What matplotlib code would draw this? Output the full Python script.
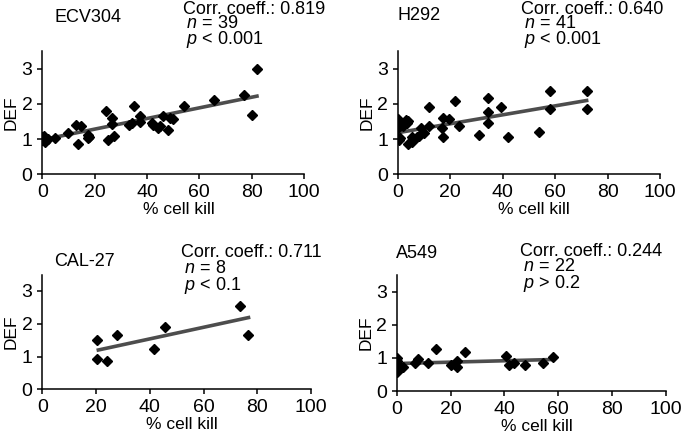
import matplotlib.pyplot as plt
import numpy as np

plt.rcParams['font.family'] = ['Liberation Sans', 'DejaVu Sans']
plt.rcParams['mathtext.fontset'] = 'custom'
plt.rcParams['mathtext.rm'] = 'Liberation Sans'
plt.rcParams['mathtext.it'] = 'Liberation Sans:italic'

W, H = 683, 440

# --- data ---
ecv_x = [0, 0, 0.5, 1, 2, 4.8, 9.7, 12.7, 13.5, 14.8, 17.6, 17.6, 17.8, 24.3, 25.2,
         26.5, 26.5, 27.5, 33.2, 34.1, 35.1, 37.3, 37.3, 41.8, 42.2, 44.1, 45, 46.2,
         48.1, 48.7, 49.8, 54, 65.5, 77, 80, 82]
ecv_y = [1.07, 0.98, 1.1, 0.91, 1.0, 1.02, 1.17, 1.4, 0.85, 1.36, 1.12, 1.02, 1.07,
         1.81, 0.98, 1.6, 1.44, 1.1, 1.4, 1.45, 1.95, 1.66, 1.49, 1.45, 1.4, 1.31,
         1.36, 1.66, 1.26, 1.6, 1.58, 1.93, 2.1, 2.24, 1.69, 2.99]

h292_x = [0, 0, 0, 0, 0.3, 0.6, 1, 1.5, 2.1, 3, 3.7, 4, 4, 5.3, 5.5, 6, 7.5, 8,
          8.9, 10, 11.9, 11.9, 16.8, 17.4, 17.4, 19.7, 21.8, 23.4, 31, 34.3, 34.3,
          34.3, 39.4, 42, 54, 58, 58, 72, 72]
h292_y = [1.58, 1.41, 1.31, 1.03, 1.0, 0.98, 1.04, 1.43, 1.38, 1.55, 1.45, 1.5, 0.85,
          0.93, 1.07, 0.98, 1.07, 1.1, 1.31, 1.17, 1.91, 1.36, 1.31, 1.6, 1.05, 1.58,
          2.09, 1.36, 1.12, 2.18, 1.76, 1.47, 1.9, 1.06, 1.19, 2.37, 1.85, 2.37, 1.85]

cal_x = [20.2, 20.2, 24.2, 27.9, 41.6, 45.5, 73.6, 76.7]
cal_y = [1.49, 0.93, 0.87, 1.66, 1.22, 1.91, 2.55, 1.66]

a549_x = [0, 0, 0, 0, 0.3, 1, 2.2, 6.8, 8, 11.8, 14.5, 20.2, 22.3, 22.5, 25.4,
          40.6, 41.7, 43.7, 47.7, 54.3, 58.2]
a549_y = [0.99, 0.9, 0.73, 0.58, 0.66, 0.75, 0.72, 0.84, 0.96, 0.86, 1.27, 0.79,
          0.92, 0.72, 1.17, 1.07, 0.79, 0.86, 0.79, 0.86, 1.04]

names = ['ECV304', 'H292', 'CAL-27', 'A549']
xs = [ecv_x, h292_x, cal_x, a549_x]
ys = [ecv_y, h292_y, cal_y, a549_y]
# regression line (intercept, slope) as drawn
intercepts = [0.98, 1.18, 0.83, 0.83]
slopes = [0.0151, 0.0127, 0.0177, 0.0021]
corr = ['0.819', '0.640', '0.711', '0.244']
ns = ['39', '41', '8', '22']
ps = ['< 0.001', '< 0.001', '< 0.1', '> 0.2']

# axes boxes in pixels: left, right (x=0..100), bottom (y=0), top (y=3.5)
boxes = [(42.3, 304, 174.3, 51), (397.7, 660, 174.3, 51),
         (42.3, 311, 389.3, 274.6), (396.7, 665.7, 391, 275.2)]
# label positions in pixels
name_pos = [(54, 17), (397, 16), (54, 262), (396, 254)]
stat_pos = [(183, 1), (521, 1), (181, 244), (520, 243)]
spacing = [0.8, 0.8, 0.9, 0.85]

fig = plt.figure(figsize=(W / 100, H / 100), dpi=100)

for i in range(4):
    l, r, b, t = boxes[i]
    ax = fig.add_axes([l / W, 1 - b / H, (r - l) / W, (b - t) / H])
    x = np.array(xs[i])
    y = np.array(ys[i])
    ax.plot(x, y, 'D', color='black', ms=5, zorder=3)
    xl = np.array([x.min(), x.max() + 0.7])
    ax.plot(xl, intercepts[i] + slopes[i] * xl, color='#4d4d4d', lw=2.6, zorder=2,
            solid_capstyle='butt')
    ax.set_xlim(0, 100)
    ax.set_ylim(0, 3.5)
    ax.set_xticks([0, 20, 40, 60, 80, 100])
    ax.set_yticks([0, 1, 2, 3])
    for s in ['top', 'right']:
        ax.spines[s].set_visible(False)
    for s in ['left', 'bottom']:
        ax.spines[s].set_linewidth(1.1)
    ax.tick_params(length=3.5, width=1.1, labelsize=14, pad=3.5)
    ax.set_xlabel('% cell kill', fontsize=12.5, labelpad=1)
    ax.xaxis.label.set_x(0.52)
    ax.set_ylabel('DEF', fontsize=12.5, labelpad=2)
    ax.patch.set_alpha(0)

    nx, ny = name_pos[i]
    fig.text(nx / W, 1 - ny / H, names[i], fontsize=13, va='center', ha='left')
    sx, sy = stat_pos[i]
    stats = ('Corr. coeff.: ' + corr[i] + '\n'
             + '\u2009' + r'$\mathit{n}$ = ' + ns[i] + '\n'
             + '\u2009' + r'$\mathit{p}$ ' + ps[i])
    fig.text(sx / W, 1 - sy / H, stats, fontsize=13, va='top', ha='left',
             linespacing=spacing[i])

fig.savefig('out.png', dpi=100)
